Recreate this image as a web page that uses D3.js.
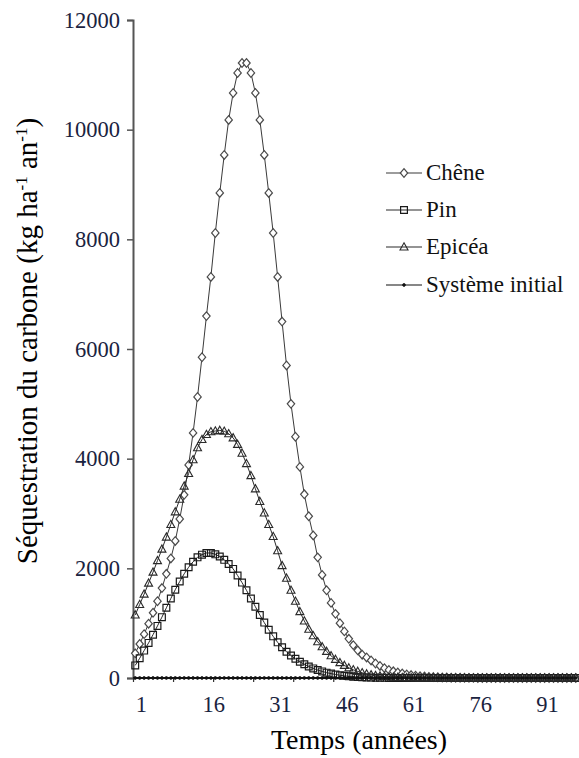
<!DOCTYPE html>
<html>
<head>
<meta charset="utf-8">
<script src="https://cdn.jsdelivr.net/npm/d3@7"></script>
<style>
  html, body { margin: 0; padding: 0; background: #fff; }
  svg { display: block; }
</style>
</head>
<body>
<svg id="chart" width="579" height="758"></svg>
<script>
// ---- data (kg C ha-1 an-1), years 1..100 ----
const years = [1,2,3,4,5,6,7,8,9,10,11,12,13,14,15,16,17,18,19,20,21,22,23,24,25,26,27,28,29,30,31,32,33,34,35,36,37,38,39,40,41,42,43,44,45,46,47,48,49,50,51,52,53,54,55,56,57,58,59,60,61,62,63,64,65,66,67,68,69,70,71,72,73,74,75,76,77,78,79,80,81,82,83,84,85,86,87,88,89,90,91,92,93,94,95,96,97,98,99,100];

const chene = [450,620,800,990,1190,1400,1640,1900,2180,2500,2900,3340,3885,4470,5125,5850,6600,7314,8116,8846,9539,10177,10669,11034,11216,11216,11034,10669,10177,9539,8846,8116,7314,6500,5700,5000,4400,3850,3350,2950,2600,2200,1880,1600,1370,1170,1000,850,715,600,505,425,375,320,265,220,180,148,122,100,82,66,53,43,34,27,21,17,13,10,8,6,5,4,3,2,2,1,1,1,0,0,0,0,0,0,0,0,0,0,0,0,0,0,0,0,0,0,0,0];

const pin = [230,360,500,640,790,950,1110,1280,1450,1610,1760,1900,2020,2120,2200,2250,2280,2280,2255,2215,2155,2080,1990,1870,1740,1600,1450,1300,1150,1010,880,760,650,560,480,410,350,295,250,210,175,145,120,98,80,64,50,39,30,23,17,13,10,7,5,4,3,2,1,1,0,0,0,0,0,0,0,0,0,0,0,0,0,0,0,0,0,0,0,0,0,0,0,0,0,0,0,0,0,0,0,0,0,0,0,0,0,0,0,0];

const epicea = [1150,1340,1530,1730,1930,2140,2350,2570,2800,3030,3260,3500,3730,3980,4200,4350,4440,4490,4505,4515,4500,4455,4380,4260,4100,3910,3690,3450,3220,3010,2800,2580,2320,2050,1820,1600,1400,1210,1040,890,770,660,570,485,405,340,280,230,185,150,120,95,75,58,45,35,27,20,15,11,8,6,4,3,2,2,1,1,0,0,0,0,0,0,0,0,0,0,0,0,0,0,0,0,0,0,0,0,0,0,0,0,0,0,0,0,0,0,0,0];

const systemeInitial = [0,0,0,0,0,0,0,0,0,0,0,0,0,0,0,0,0,0,0,0,0,0,0,0,0,0,0,0,0,0,0,0,0,0,0,0,0,0,0,0,0,0,0,0,0,0,0,0,0,0,0,0,0,0,0,0,0,0,0,0,0,0,0,0,0,0,0,0,0,0,0,0,0,0,0,0,0,0,0,0,0,0,0,0,0,0,0,0,0,0,0,0,0,0,0,0,0,0,0,0];

const seriesNames = ["Chêne", "Pin", "Epicéa", "Système initial"];
const yTickValues = [0, 2000, 4000, 6000, 8000, 10000, 12000];
const xLabelValues = [1, 16, 31, 46, 61, 76, 91];
const xTickValues = [0.5, 9.5, 18.5, 27.5, 36.5, 45.5, 54.5, 63.5, 72.5, 81.5, 90.5, 99.5];

// ---- layout ----
const FONT_CSS = "font-family: 'Liberation Serif', Tinos, 'Times New Roman', serif !important;";
const LABEL_COLOR = "#1a2340";
const svg = d3.select("#chart");
const x = d3.scaleLinear().domain([0.5, 100.5]).range([133, 578]);
const y = d3.scaleLinear().domain([0, 12000]).range([678, 20]);

const markerPaths = {
  diamond: "M0,-4.3L3.7,0L0,4.3L-3.7,0Z",
  square: "M-3.4,-3.4H3.4V3.4H-3.4Z",
  triangle: "M0,-4.2L4,3L-4,3Z",
  dot: "M0,-1.4A1.4,1.4 0 1,1 0,1.4A1.4,1.4 0 1,1 0,-1.4Z"
};

const series = [
  { name: seriesNames[0], values: chene,  marker: "diamond",  stroke: "#4a4a4a", lineColor: "#3a3a3a", fill: "#fff", sw: 1.2 },
  { name: seriesNames[1], values: pin,    marker: "square",   stroke: "#1a1a1a", lineColor: "#2a2a2a", fill: "none", sw: 1.2 },
  { name: seriesNames[2], values: epicea, marker: "triangle", stroke: "#2a2a2a", lineColor: "#2a2a2a", fill: "none", sw: 1.1 },
  { name: seriesNames[3], values: systemeInitial, marker: "dot", stroke: "#111", lineColor: "#111", fill: "#111", sw: 0.8 }
];

// ---- axes ----
const yAxis = d3.axisLeft(y).tickValues(yTickValues).tickSize(6).tickPadding(7).tickFormat(d3.format("d"));
const gy = svg.append("g").attr("transform", "translate(133,0)").call(yAxis);
gy.select(".domain").attr("stroke", "#555").attr("stroke-width", 2);
gy.selectAll(".tick line").attr("stroke", "#555").attr("stroke-width", 1.5);
gy.selectAll(".tick text").attr("fill", LABEL_COLOR).attr("style", FONT_CSS + " font-size: 22.5px;");

const xAxisTicks = d3.axisBottom(x).tickValues(xTickValues).tickSize(4).tickFormat("");
const gx = svg.append("g").attr("transform", "translate(0,678)").call(xAxisTicks);
gx.select(".domain").attr("stroke", "#1a1a1a").attr("stroke-width", 2).attr("d", "M133,0H579");
gx.selectAll(".tick line").attr("stroke", "#333").attr("stroke-width", 1.2);

const xAxisLabels = d3.axisBottom(x).tickValues(xLabelValues).tickSize(0).tickPadding(18).tickFormat(d3.format("d"));
const gxl = svg.append("g").attr("transform", "translate(0,678)").call(xAxisLabels).attr("text-anchor", "start");
gxl.select(".domain").remove();
gxl.selectAll(".tick text").attr("fill", LABEL_COLOR).attr("style", FONT_CSS + " font-size: 22.5px;");

// ---- series ----
const line = d3.line().x((d, i) => x(years[i])).y(d => y(d));

series.forEach(s => {
  const g = svg.append("g");
  g.append("path").datum(s.values)
    .attr("d", line)
    .attr("fill", "none")
    .attr("stroke", s.lineColor)
    .attr("stroke-width", 1);
  g.selectAll("path.m").data(s.values).enter().append("path")
    .attr("class", "m")
    .attr("d", markerPaths[s.marker])
    .attr("transform", (d, i) => `translate(${x(years[i])},${y(d)})`)
    .attr("fill", s.fill)
    .attr("stroke", s.stroke)
    .attr("stroke-width", s.sw);
});

// ---- legend ----
const legendY = [173, 210, 247, 285];
const legend = svg.append("g");
series.forEach((s, i) => {
  const ly = legendY[i];
  legend.append("line").attr("x1", 386).attr("x2", 422).attr("y1", ly).attr("y2", ly)
    .attr("stroke", s.lineColor).attr("stroke-width", 1.1);
  legend.append("path").attr("d", markerPaths[s.marker])
    .attr("transform", `translate(404,${ly})`)
    .attr("fill", s.fill).attr("stroke", s.stroke).attr("stroke-width", s.sw);
  legend.append("text").attr("x", 426).attr("y", ly + 7)
    .attr("fill", "#111").attr("style", FONT_CSS + " font-size: 23px;")
    .text(s.name);
});

// ---- axis titles ----
svg.append("text")
  .attr("x", 359).attr("y", 749)
  .attr("text-anchor", "middle")
  .attr("fill", "#000").attr("style", FONT_CSS + " font-size: 28px;")
  .text("Temps (années)");

const yt = svg.append("text")
  .attr("transform", "translate(37,341) rotate(-90)")
  .attr("text-anchor", "middle")
  .attr("fill", "#000").attr("style", FONT_CSS + " font-size: 29px;");
yt.append("tspan").text("Séquestration du carbone (kg ha");
yt.append("tspan").attr("dy", -10).attr("style", "font-size: 17px;").text("-1");
yt.append("tspan").attr("dy", 10).text(" an");
yt.append("tspan").attr("dy", -10).attr("style", "font-size: 17px;").text("-1");
yt.append("tspan").attr("dy", 10).text(")");
</script>
</body>
</html>
